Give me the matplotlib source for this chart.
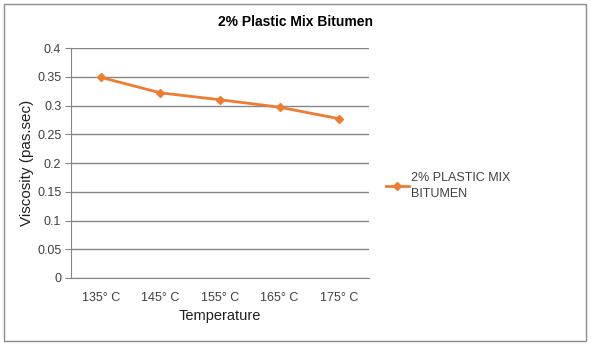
import matplotlib
matplotlib.use("Agg")
import matplotlib.pyplot as plt
from matplotlib.patches import Rectangle

plt.rcParams['font.family'] = ['Liberation Sans', 'DejaVu Sans']

temperatures = ["135° C", "145° C", "155° C", "165° C", "175° C"]
viscosity = [0.349, 0.322, 0.310, 0.297, 0.277]
series_name = "2% PLASTIC MIX\nBITUMEN"
y_ticks = [0, 0.05, 0.1, 0.15, 0.2, 0.25, 0.3, 0.35, 0.4]
y_tick_labels = ["0", "0.05", "0.1", "0.15", "0.2", "0.25", "0.3", "0.35", "0.4"]

orange = "#ED7D31"
grid_gray = "#868686"
text_color = "#404040"

fig = plt.figure(figsize=(5.91, 3.45), dpi=100)
fig.patch.set_facecolor("white")
fig.patches.append(Rectangle((4 / 591, 4 / 345), 582 / 591, 337 / 345,
                             transform=fig.transFigure, fill=False,
                             edgecolor="#8c8c8c", linewidth=1.0))

ax = fig.add_axes([71 / 591, 1 - 278 / 345, 298 / 591, 230 / 345])
x = list(range(len(temperatures)))
ax.plot(x, viscosity, color=orange, linewidth=2, marker="D", markersize=4.5,
        label=series_name)

ax.set_xlim(-0.5, len(temperatures) - 0.5)
ax.set_ylim(0, 0.4)
ax.set_yticks(y_ticks)
ax.set_yticklabels(y_tick_labels)
ax.set_xticks(x)
ax.set_xticklabels(temperatures)
ax.yaxis.grid(True, color=grid_gray, linewidth=1)
ax.set_axisbelow(True)

for side in ["top", "right"]:
    ax.spines[side].set_visible(False)
ax.spines["left"].set_color(grid_gray)
ax.spines["bottom"].set_color(grid_gray)
ax.tick_params(axis="y", length=4, color=grid_gray, labelsize=9,
               labelcolor=text_color, pad=3)
ax.tick_params(axis="x", length=0, labelsize=9, labelcolor=text_color, pad=10)

ax.set_xlabel("Temperature", fontsize=10.5, color="#202020", labelpad=4)
ax.set_ylabel("Viscosity (pas.sec)", fontsize=11, color="#202020", labelpad=2)
fig.text(0.5, 1 - 22 / 345, "2% Plastic Mix Bitumen", ha="center", va="center",
         fontsize=10, fontweight="bold", color="#000000")

leg = ax.legend(loc="center left", bbox_to_anchor=(1.02, 0.40), frameon=False,
                fontsize=9, handlelength=1.8, handletextpad=0.2,
                labelcolor=text_color)
for t in leg.get_texts():
    t.set_linespacing(1.4)

fig.savefig("out.png", dpi=100)
